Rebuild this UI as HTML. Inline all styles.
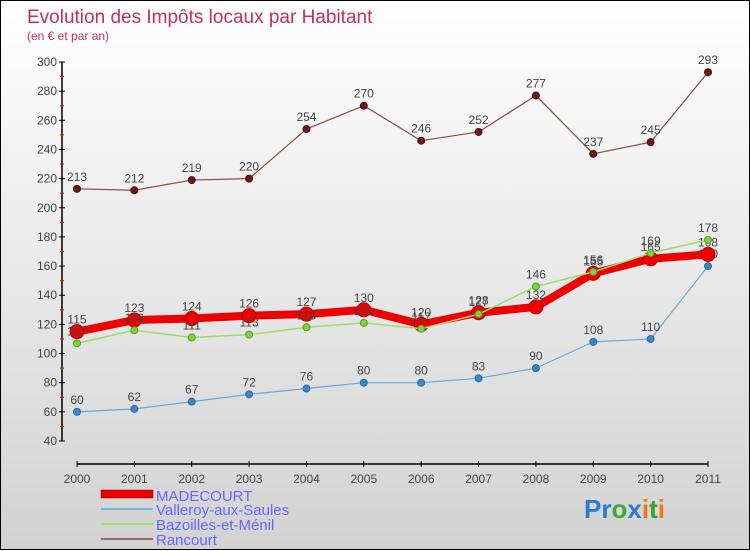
<!DOCTYPE html>
<html><head><meta charset="utf-8"><style>
html,body{margin:0;padding:0}
body{width:750px;height:550px;overflow:hidden}
#wrap{position:relative;width:748px;height:548px;border:1px solid #000;background:linear-gradient(#ffffff,#d2d2d2)}
svg{position:absolute;left:0;top:0}
text{font-family:"Liberation Sans",sans-serif}
</style></head><body>
<div id="wrap">
<svg id="chart" width="750" height="550">
<text x="26" y="22" font-size="19" fill="#c0305f">Evolution des Impôts locaux par Habitant</text>
<text x="26" y="39" font-size="12" fill="#c0305f">(en € et par an)</text>
<g id="axes"></g><g id="series"></g>
<g id="legend">
<rect x="100" y="489" width="52" height="8" fill="#ee0000" stroke="#900" stroke-width="0.5"/>
<text x="155" y="500" font-size="15" fill="#6666ff">MADECOURT</text>
<line x1="100" y1="508" x2="152" y2="508" stroke="#7ab0da" stroke-width="2"/>
<text x="155" y="514" font-size="15" fill="#6666ff">Valleroy-aux-Saules</text>
<line x1="100" y1="523" x2="152" y2="523" stroke="#9fdc6c" stroke-width="2"/>
<text x="155" y="529" font-size="15" fill="#6666ff">Bazoilles-et-Ménil</text>
<line x1="100" y1="538" x2="152" y2="538" stroke="#9a6a6a" stroke-width="2"/>
<text x="155" y="544" font-size="15" fill="#6666ff">Rancourt</text>
</g>
<g font-size="26" font-weight="bold">
<text x="583" y="517"><tspan fill="#2a7ad0">Pr</tspan><tspan fill="#3aaa3a">o</tspan><tspan fill="#2a7ad0">x</tspan><tspan fill="#f07a10">i</tspan><tspan fill="#30a030">t</tspan><tspan fill="#f07a10">i</tspan></text>
</g>
</svg></div>
<script>
const years=[2000,2001,2002,2003,2004,2005,2006,2007,2008,2009,2010,2011];
const yTicks=[40,60,80,100,120,140,160,180,200,220,240,260,280,300];
const madecourt=[115,123,124,126,127,130,120,128,132,155,165,168];
const valleroy=[60,62,67,72,76,80,80,83,90,108,110,160];
const bazoilles=[107,116,111,113,118,121,117,127,146,156,169,178];
const rancourt=[213,212,219,220,254,270,246,252,277,237,245,293];
const NS='http://www.w3.org/2000/svg';
const X=i=>76+i*(707-76)/11;
const Y=v=>440-(v-40)*(379/260);
function mk(t,a,p){const e=document.createElementNS(NS,t);for(const k in a)e.setAttribute(k,a[k]);p.appendChild(e);return e;}
const ax=document.getElementById('axes');
let l=mk('line',{x1:61,y1:61,x2:61,y2:440,stroke:'#000','stroke-width':1.5},ax);


yTicks.forEach(v=>{
 let t=mk('line',{x1:58,y1:Y(v),x2:64,y2:Y(v),stroke:'#000'},ax);
 
 
 if(v<300){let m=mk('line',{x1:59,y1:Y(v+10),x2:63,y2:Y(v+10),stroke:'#e00'},ax);
 
 }
 let tx=mk('text',{x:56,y:Y(v)+4,'font-size':12,fill:'#444','text-anchor':'end'},ax);tx.textContent=v;
 
 
});
l=mk('line',{x1:76,y1:463,x2:707,y2:463,stroke:'#000','stroke-width':1.5},ax);


years.forEach((y,i)=>{
 let t=mk('line',{x1:X(i),y1:460,x2:X(i),y2:466,stroke:'#000'},ax);
 
 
 let tx=mk('text',{x:X(i),y:482,'font-size':12,fill:'#444','text-anchor':'middle'},ax);tx.textContent=y;
 
 
});
const sg=document.getElementById('series');
function draw(name,data,color,w,r,dot,dotStroke){
 const g=mk('g',{},sg);
 
 
 const p=mk('polyline',{points:data.map((v,i)=>X(i)+','+Y(v)).join(' '),fill:'none',stroke:color,'stroke-width':w,'stroke-linejoin':'round'},g);
 
 
 data.forEach((v,i)=>{
  const c=mk('circle',{cx:X(i),cy:Y(v),r:r,fill:dot,stroke:dotStroke,'stroke-width':1},g);
  
  
  const t=mk('text',{x:X(i),y:Y(v)-8,'font-size':12,fill:'#444','text-anchor':'middle'},g);t.textContent=v;
  
  
 });
}
draw('rancourt',rancourt,'#8a4a4a',1.2,3.5,'#6a1a1a','#4a0a0a');
draw('valleroy',valleroy,'#6aa8d8',1.2,3.5,'#3a88cc','#2a6aa0');
draw('madecourt',madecourt,'#ee0000',8,7,'#ee0000','#b00');
draw('bazoilles',bazoilles,'#9fdc6c',1.5,3.5,'#80d040','#50a020');
</script>
</body></html>
